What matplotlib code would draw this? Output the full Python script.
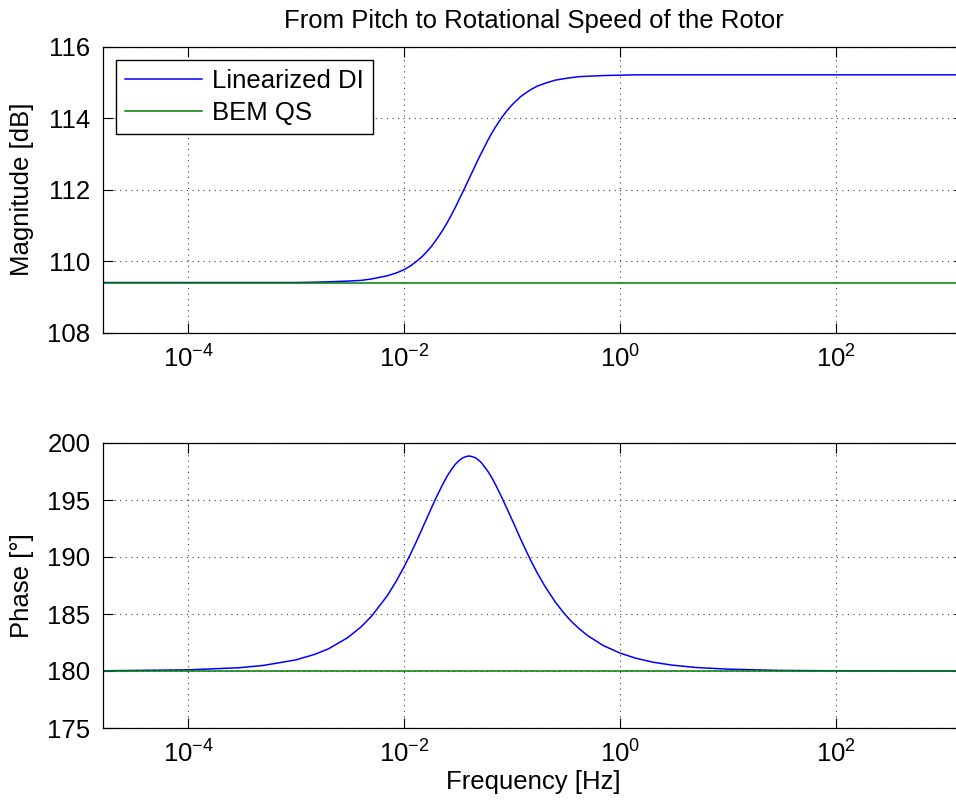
import matplotlib
matplotlib.use('Agg')
from matplotlib import pyplot as plt
from matplotlib.ticker import FixedLocator, NullLocator, LogFormatterMathtext

plt.rcParams['font.family'] = ['Liberation Sans', 'DejaVu Sans']
plt.rcParams['mathtext.fontset'] = 'custom'
plt.rcParams['mathtext.rm'] = 'Liberation Sans'
plt.rcParams['axes.unicode_minus'] = False

# frequency response of the linearized dynamic-inflow model
freq = [1.6e-5, 1e-4, 3e-4, 5e-4, 1e-3, 1.5e-3, 2e-3, 3e-3, 4e-3, 5e-3, 7e-3,
        0.0085, 0.01, 0.0115, 0.013, 0.0145, 0.016, 0.018, 0.02, 0.0225, 0.025,
        0.0275, 0.03, 0.0325, 0.035, 0.0375, 0.04, 0.043, 0.046, 0.05, 0.053,
        0.06, 0.065, 0.07, 0.08, 0.09, 0.1, 0.12, 0.135, 0.15, 0.17, 0.2, 0.25,
        0.3, 0.35, 0.42, 0.5, 0.7, 1, 1.4, 2, 3, 5, 10, 30, 100, 1600]
mag_di = [109.40, 109.40, 109.40, 109.40, 109.40, 109.41, 109.42, 109.44, 109.46,
          109.50, 109.59, 109.67, 109.76, 109.87, 109.99, 110.11, 110.24, 110.42,
          110.61, 110.84, 111.07, 111.30, 111.52, 111.74, 111.94, 112.13, 112.31,
          112.51, 112.70, 112.93, 113.08, 113.40, 113.59, 113.75, 114.02, 114.22,
          114.38, 114.61, 114.72, 114.81, 114.90, 114.98, 115.07, 115.11, 115.14,
          115.17, 115.18, 115.20, 115.21, 115.22, 115.22, 115.22, 115.22, 115.22,
          115.22, 115.22, 115.22]
phase_di = [180.02, 180.10, 180.29, 180.49, 180.98, 181.47, 181.95, 182.92, 183.87,
            184.81, 186.61, 187.91, 189.14, 190.28, 191.35, 192.35, 193.26, 194.34,
            195.29, 196.27, 197.08, 197.68, 198.16, 198.48, 198.70, 198.81, 198.86,
            198.80, 198.69, 198.43, 198.17, 197.49, 196.95, 196.38, 195.26, 194.21,
            193.26, 191.58, 190.54, 189.64, 188.65, 187.48, 186.08, 185.11, 184.40,
            183.69, 183.11, 182.23, 181.57, 181.12, 180.78, 180.52, 180.31, 180.16,
            180.05, 180.02, 180.00]

# quasi-steady BEM model is flat
freq_qs = [1.6e-5, 1600]
mag_qs = [109.40, 109.40]
phase_qs = [180.0, 180.0]

xlim = (1.63e-5, 1530)
xticks = [1e-4, 1e-2, 1e0, 1e2]
fs = 18.5

fig = plt.figure(figsize=(9.56, 8.09), dpi=100)
ax1 = fig.add_axes([103/956, 1 - 332.5/809, 861/956, 285.5/809])
ax2 = fig.add_axes([103/956, 1 - 728/809, 861/956, 285/809])

ax1.plot(freq, mag_di, color=(0, 0, 1), lw=1.1, label='Linearized DI')
ax1.plot(freq_qs, mag_qs, color=(0, 0.5, 0), lw=1.1, label='BEM QS')
ax2.plot(freq, phase_di, color=(0, 0, 1), lw=1.1)
ax2.plot(freq_qs, phase_qs, color=(0, 0.5, 0), lw=1.1)

for ax in (ax1, ax2):
    ax.set_xscale('log')
    ax.set_xlim(xlim)
    ax.xaxis.set_major_locator(FixedLocator(xticks))
    ax.xaxis.set_major_formatter(LogFormatterMathtext())
    ax.xaxis.set_minor_locator(NullLocator())
    ax.tick_params(direction='in', length=7, width=0.8, top=True, right=True,
                   labelsize=fs, pad=9)
    ax.grid(True, linestyle=(0, (1, 4)), color='0.25', lw=0.8)
    for s in ax.spines.values():
        s.set_linewidth(0.9)

ax1.set_ylim(108, 116)
ax1.set_yticks([108, 110, 112, 114, 116])
ax2.set_ylim(175, 200)
ax2.set_yticks([175, 180, 185, 190, 195, 200])

ax1.set_title('From Pitch to Rotational Speed of the Rotor', fontsize=fs, pad=14)
ax1.set_ylabel('Magnitude [dB]', fontsize=fs)
ax2.set_ylabel('Phase [°]', fontsize=fs)
ax2.set_xlabel('Frequency [Hz]', fontsize=fs, labelpad=2)
ax1.yaxis.set_label_coords(-0.080, 0.5)
ax2.yaxis.set_label_coords(-0.080, 0.5)

leg = ax1.legend(loc='upper left', bbox_to_anchor=(0.015, 0.955), borderaxespad=0,
                 fontsize=fs, fancybox=False, framealpha=1, edgecolor='black',
                 handlelength=3.0, handletextpad=0.4, borderpad=0.35,
                 labelspacing=0.3)
leg.get_frame().set_linewidth(1.0)

fig.savefig('out.png', dpi=100)
